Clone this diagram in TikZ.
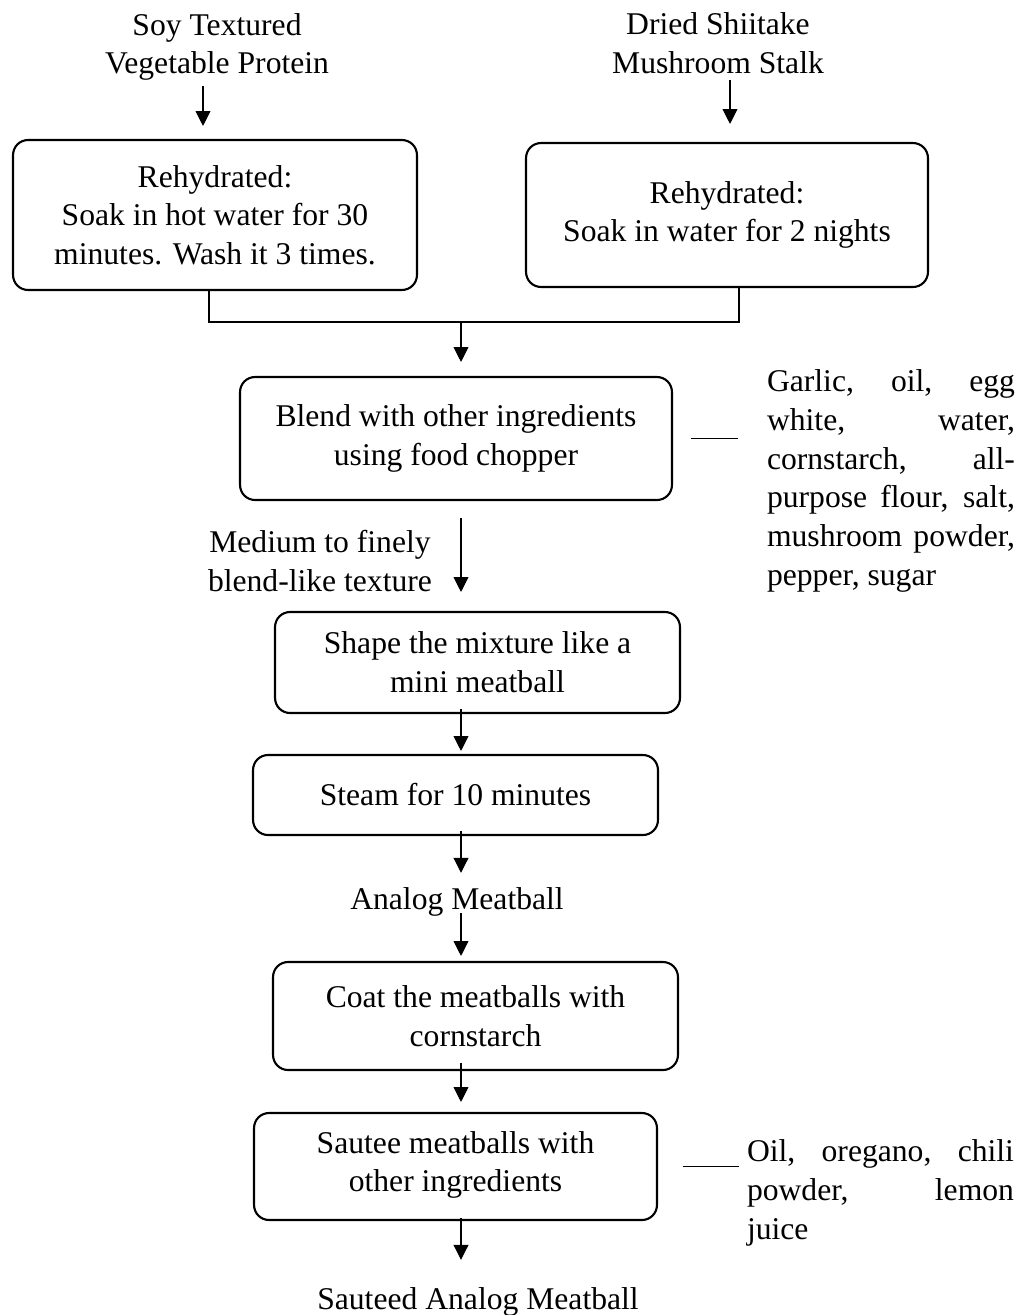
\documentclass[tikz,border=0pt]{standalone}
\usepackage{fontspec}
\setmainfont{Liberation Serif}
\usetikzlibrary{arrows.meta,calc}

\tikzset{
	procbox/.style={draw, rounded corners=0.3cm, line width=1.2pt, align=center, inner sep=0pt},
	txt/.style={align=center, inner sep=0pt},
	arr/.style={-{Triangle[length=8.5pt,width=8.5pt]}, line width=0.6pt},
	link/.style={line width=0.6pt}
}

\begin{document}
\begin{tikzpicture}[x=0.02cm, y=-0.02cm, font=\fontsize{18}{22}\selectfont]
		\useasboundingbox (0,0) rectangle (1025,1315);
		\node[txt] (soy) at (217,47) {Soy Textured\\Vegetable Protein};
		\node[txt] (shii) at (718,43) {Dried Shiitake\\Mushroom Stalk};
		\node[procbox, minimum width=8.08cm, minimum height=3cm] (rh1) at (215,215) {Rehydrated:\\Soak in hot water for 30\\minutes. Wash it 3 times.};
		\node[procbox, minimum width=8.04cm, minimum height=2.88cm] (rh2) at (727,215) {Rehydrated:\\Soak in water for 2 nights};
		\node[procbox, minimum width=8.64cm, minimum height=2.46cm] (blend) at (456,438.5) {Blend with other ingredients\\using food chopper};
		\node[txt, align=left] (ingr) at (891,481) {\makebox[4.96cm][s]{Garlic, oil, egg}\\\makebox[4.96cm][s]{white, water,}\\\makebox[4.96cm][s]{cornstarch, all-}\\\makebox[4.96cm][s]{purpose flour, salt,}\\\makebox[4.96cm][s]{mushroom powder,}\\pepper, sugar};
		\node[txt] (texture) at (320,561) {Medium to finely\\blend-like texture};
		\node[procbox, minimum width=8.1cm, minimum height=2.02cm] (shape) at (477.5,662.5) {Shape the mixture like a\\mini meatball};
		\node[procbox, minimum width=8.1cm, minimum height=1.6cm] (steam) at (455.5,795) {Steam for 10 minutes};
		\node[txt] (analog) at (457,901.5) {Analog Meatball};
		\node[procbox, minimum width=8.1cm, minimum height=2.16cm] (coat) at (475.5,1016) {Coat the meatballs with\\cornstarch};
		\node[procbox, minimum width=8.06cm, minimum height=2.14cm, text depth=0.2cm] (saute) at (455.5,1166.5) {Sautee meatballs with\\other ingredients};
		\node[txt, align=left] (spice) at (880.5,1193) {\makebox[5.34cm][s]{Oil, oregano, chili}\\\makebox[5.34cm][s]{powder, lemon}\\juice};
		\node[txt] (final) at (478,1301.5) {Sauteed Analog Meatball};
%
		\coordinate (mid) at (461,322);
		\draw[arr, shorten <=0.1cm, shorten >=0.26cm] (soy.south -| 203,0) -- (rh1.north -| 203,0);
		\draw[arr, shorten <=0.12cm, shorten >=0.36cm] (shii.south -| 730,0) -- (rh2.north -| 730,0);
		\draw[link] (rh1.south -| 209,0) -- (209,322) -- (739,322) -- (rh2.south -| 739,0);
		\draw[arr, shorten >=0.28cm] (mid) -- (blend.north -| mid);
		\draw[arr, shorten <=0.34cm, shorten >=0.38cm] (blend.south -| mid) -- (shape.north -| mid);
		\draw[arr, shorten <=-0.1cm, shorten >=0.06cm] (shape.south -| mid) -- (steam.north -| mid);
		\draw[arr, shorten <=-0.1cm, shorten >=0.28cm] (steam.south -| mid) -- (analog.north -| mid);
		\draw[arr, shorten <=-0.06cm, shorten >=0.1cm] (analog.south -| mid) -- (coat.north -| mid);
		\draw[arr, shorten <=-0.16cm, shorten >=0.2cm] (coat.south -| mid) -- (saute.north -| mid);
		\draw[arr, shorten <=-0.06cm, shorten >=0.54cm] (saute.south -| mid) -- (final.north -| mid);
		\path[link]
			(blend.east) edge[shorten <=0.36cm, shorten >=0.58cm] (blend.east -| ingr.west)
			(saute.east) edge[shorten <=0.49cm, shorten >=0.16cm] (saute.east -| spice.west);
	\end{tikzpicture}
\end{document}
